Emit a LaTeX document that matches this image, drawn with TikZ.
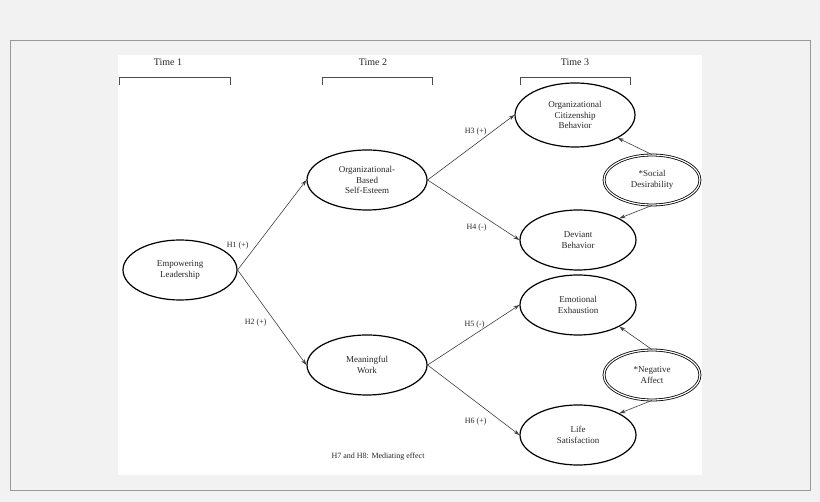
\documentclass[tikz,border=0pt]{standalone}
\usepackage{fontspec}
\setmainfont{Liberation Serif}
\usetikzlibrary{shapes.geometric,arrows.meta}
\begin{document}
\begin{tikzpicture}[x=1pt,y=-1pt,
  el/.style={draw,ellipse,line width=1.2pt,inner sep=0pt,align=center,font=\fontsize{9}{10.5}\selectfont,text=black!85},
  dbl/.style={el,double,double distance=1.2pt,line width=0.8pt},
  arr/.style={-{Stealth[length=6pt,width=4pt]},line width=0.6pt,black!75},
  lab/.style={font=\fontsize{8}{9}\selectfont,text=black!85},
  tm/.style={font=\fontsize{10}{11}\selectfont,text=black!85},
  br/.style={line width=1pt,black!70}]
\fill[black!5] (0,0) rectangle (820,502);
\draw[black!40,line width=0.8pt] (10,40) rectangle (810,490);
\fill[white] (118,55) rectangle (702,475);
\useasboundingbox (0,0) rectangle (820,502);
\node[tm] (t1) at (168,62) {Time 1};
\node[tm] (t2) at (373,62) {Time 2};
\node[tm] (t3) at (575,62) {Time 3};
\draw[br] (119,85) -- (119,78) -- (230,78) -- (230,85);
\draw[br] (322,85) -- (322,78) -- (432,78) -- (432,85);
\draw[br] (520,85) -- (520,78) -- (630,78) -- (630,85);
\node[el,minimum width=114,minimum height=60] (el) at (180,270) {Empowering\\Leadership};
\node[el,minimum width=120,minimum height=60] (ob) at (367,180) {Organizational-\\Based\\Self-Esteem};
\node[el,minimum width=120,minimum height=60] (mw) at (367,365) {Meaningful\\Work};
\node[el,minimum width=120,minimum height=64] (oc) at (575,115) {Organizational\\Citizenship\\Behavior};
\node[el,minimum width=116,minimum height=60] (db) at (578,240) {Deviant\\Behavior};
\node[el,minimum width=116,minimum height=60] (ee) at (578,305) {Emotional\\Exhaustion};
\node[el,minimum width=116,minimum height=60] (ls) at (578,435) {Life\\Satisfaction};
\node[dbl,minimum width=96,minimum height=50] (sd) at (652,180) {*Social\\Desirability};
\node[dbl,minimum width=96,minimum height=50] (na) at (652,375) {*Negative\\Affect};
\draw[arr] (el.east) -- (ob.west);
\draw[arr] (el.east) -- (mw.west);
\draw[arr] (ob.east) -- (oc.west);
\draw[arr] (ob.east) -- (db.west);
\draw[arr] (mw.east) -- (ee.west);
\draw[arr] (mw.east) -- (ls.west);
\draw[arr] (sd.north) -- (oc.south east);
\draw[arr] (sd.south) -- (db.north east);
\draw[arr] (na.north) -- (ee.south east);
\draw[arr] (na.south) -- (ls.north east);
\node[lab,anchor=east] (h1) at (252,246) {H1 (+)};
\node[lab,anchor=east] (h2) at (270,323) {H2 (+)};
\node[lab,anchor=east] (h3) at (490,132) {H3 (+)};
\node[lab,anchor=east] (h4) at (490,228) {H4 (-)};
\node[lab,anchor=east] (h5) at (488,325) {H5 (-)};
\node[lab,anchor=east] (h6) at (490,422) {H6 (+)};
\node[lab] (h7) at (378,457) {H7 and H8: Mediating effect};
\end{tikzpicture}
\end{document}
